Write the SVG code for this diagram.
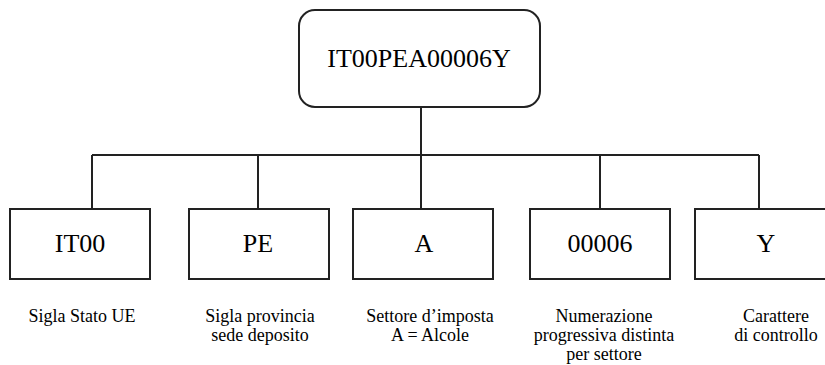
<svg xmlns="http://www.w3.org/2000/svg" width="825" height="365" viewBox="0 0 825 365">
<style>
.box{fill:#fff;stroke:#222;stroke-width:2}
.conn{fill:none;stroke:#222;stroke-width:2}
.big{font-family:'Liberation Serif',serif;font-size:26px;fill:#000;text-anchor:middle}
.lbl{font-family:'Liberation Serif',serif;font-size:18px;fill:#000;text-anchor:middle}
</style>
<rect width="825" height="365" fill="#fff"/>
<g id="connectors">
<path class="conn" d="M421,107 V155 M92,155 H759 M92,155 V209 M258,155 V209 M421,155 V209 M600,155 V209 M759,155 V209"/>
</g>
<g id="root">
<rect class="box" x="299" y="10" width="241" height="97" rx="16" ry="16"/>
<text class="big" x="419" y="67">IT00PEA00006Y</text>
</g>
<g id="n-it00">
<rect class="box" x="10" y="209" width="140" height="70"/>
<text class="big" x="80" y="252">IT00</text>
<text class="lbl" x="82" y="322">Sigla Stato UE</text>
</g>
<g id="n-pe">
<rect class="box" x="189" y="209" width="140" height="70"/>
<text class="big" x="258" y="252">PE</text>
<text class="lbl" x="260" y="322">Sigla provincia</text>
<text class="lbl" x="260" y="341">sede deposito</text>
</g>
<g id="n-a">
<rect class="box" x="353" y="209" width="140" height="70"/>
<text class="big" x="424" y="252">A</text>
<text class="lbl" x="430" y="322">Settore d’imposta</text>
<text class="lbl" x="430" y="341">A = Alcole</text>
</g>
<g id="n-00006">
<rect class="box" x="530" y="209" width="140" height="70"/>
<text class="big" x="600" y="252">00006</text>
<text class="lbl" x="604" y="322">Numerazione</text>
<text class="lbl" x="604" y="341">progressiva distinta</text>
<text class="lbl" x="604" y="360">per settore</text>
</g>
<g id="n-y">
<rect class="box" x="695" y="209" width="140" height="70"/>
<text class="big" x="766" y="252">Y</text>
<text class="lbl" x="776" y="322">Carattere</text>
<text class="lbl" x="776" y="341">di controllo</text>
</g>
</svg>
